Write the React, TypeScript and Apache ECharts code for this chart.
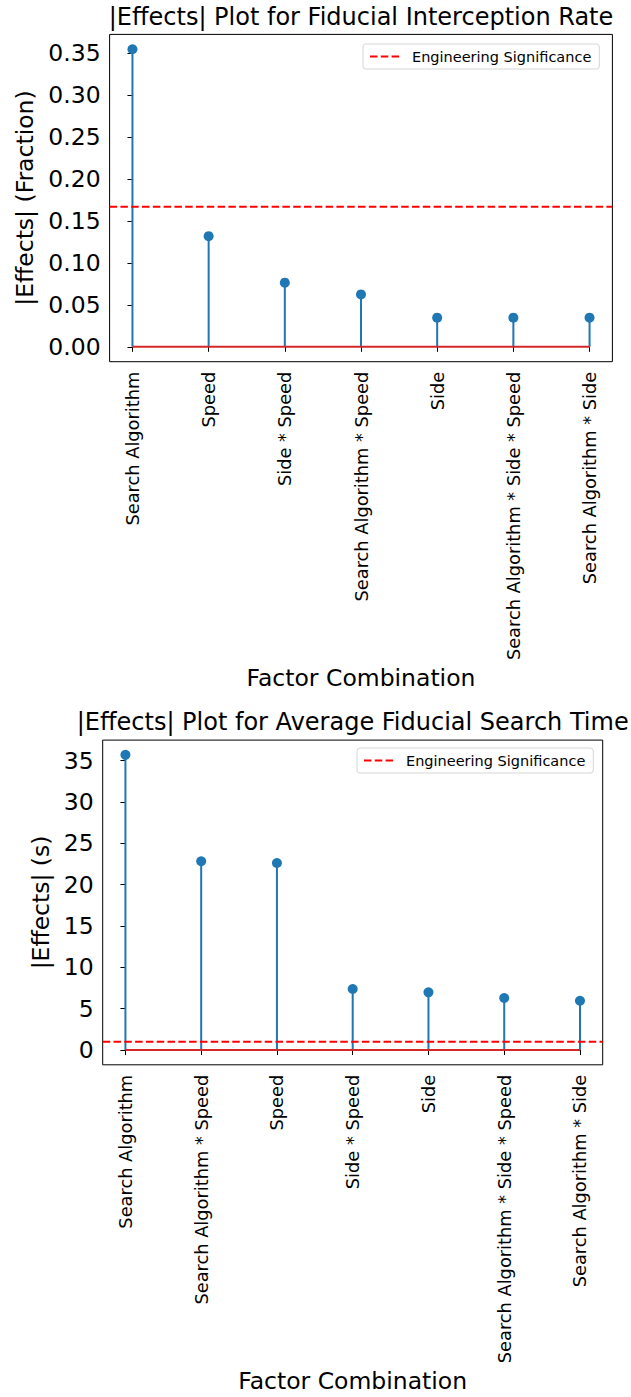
import React, { useEffect, useRef } from 'react';
import * as echarts from 'echarts';

const topTitle = '|Effects| Plot for Fiducial Interception Rate';
const topCategories = [
  'Search Algorithm',
  'Speed',
  'Side * Speed',
  'Search Algorithm * Speed',
  'Side',
  'Search Algorithm * Side * Speed',
  'Search Algorithm * Side',
];
const topValues = [0.355, 0.132, 0.0765, 0.0625, 0.0348, 0.0348, 0.0348];
const topThreshold = 0.167;
const topYTicks = [0, 0.05, 0.1, 0.15, 0.2, 0.25, 0.3, 0.35];
const topYLabel = '|Effects| (Fraction)';

const bottomTitle = '|Effects| Plot for Average Fiducial Search Time';
const bottomCategories = [
  'Search Algorithm',
  'Search Algorithm * Speed',
  'Speed',
  'Side * Speed',
  'Side',
  'Search Algorithm * Side * Speed',
  'Search Algorithm * Side',
];
const bottomValues = [35.7, 22.83, 22.62, 7.38, 6.98, 6.29, 5.96];
const bottomThreshold = 1.0;
const bottomYTicks = [0, 5, 10, 15, 20, 25, 30, 35];
const bottomYLabel = '|Effects| (s)';

const xLabel = 'Factor Combination';
const legendName = 'Engineering Significance';

const FONT = 'DejaVu Sans';
const STEM = '#1f77b4';
const BASE = '#d62728';

type Panel = {
  title: string;
  cats: string[];
  vals: number[];
  thr: number;
  yTicks: number[];
  yLabel: string;
  decimals: number;
  grid: { left: number; top: number; width: number; height: number };
  titleX: number;
  titleY: number;
  yNameGap: number;
  legendPos: { left: number; top: number };
};

function buildOption(panels: Panel[]) {
  const grid: any[] = [];
  const xAxis: any[] = [];
  const yAxis: any[] = [];
  const series: any[] = [];
  const title: any[] = [];
  const legend: any[] = [];
  panels.forEach((p, i) => {
    const n = p.cats.length;
    const idx = p.cats.map((_, k) => k);
    const maxV = Math.max(...p.vals);
    const yMin = -0.05 * maxV;
    const yMax = maxV * 1.05;
    const xMin = -0.05 * (n - 1);
    const xMax = n - 1 + 0.05 * (n - 1);
    grid.push({
      left: p.grid.left,
      top: p.grid.top,
      width: p.grid.width,
      height: p.grid.height,
      show: true,
      borderColor: '#000',
      borderWidth: 1,
      backgroundColor: 'transparent',
      containLabel: false,
    });
    title.push({
      text: p.title,
      left: p.titleX,
      top: p.titleY,
      textAlign: 'center',
      padding: 0,
      textStyle: { fontFamily: FONT, fontSize: 24, fontWeight: 'normal', color: '#000' },
    });
    legend.push({
      data: [legendName],
      left: p.legendPos.left,
      top: p.legendPos.top,
      orient: 'horizontal',
      padding: [5, 8, 5, 6],
      itemWidth: 31,
      itemHeight: 14,
      borderColor: '#d6d6d6',
      borderWidth: 1,
      borderRadius: 3,
      backgroundColor: '#fff',
      selectedMode: false,
      itemStyle: { opacity: 0 },
      lineStyle: { color: 'red', width: 2, type: [7.5, 3.3], opacity: 1 },
      textStyle: { fontFamily: FONT, fontSize: 14.5, color: '#000', padding: [0, 0, 0, 6] },
    });
    xAxis.push({
      type: 'value',
      gridIndex: i,
      min: xMin,
      max: xMax,
      splitLine: { show: false },
      axisLine: { show: false },
      axisTick: {
        show: true,
        customValues: idx,
        length: 5,
        inside: false,
        lineStyle: { color: '#000', width: 1 },
      },
      axisLabel: {
        customValues: idx,
        formatter: (v: number) => p.cats[Math.round(v)] ?? '',
        rotate: 90,
        fontSize: 17.8,
        fontFamily: FONT,
        color: '#000',
        margin: 10,
      },
      name: xLabel,
      nameLocation: 'middle',
      nameGap: 304,
      nameTextStyle: { fontFamily: FONT, fontSize: 23.5, color: '#000' },
    });
    yAxis.push({
      type: 'value',
      gridIndex: i,
      min: yMin,
      max: yMax,
      splitLine: { show: false },
      axisLine: { show: false },
      axisTick: {
        show: true,
        customValues: p.yTicks,
        length: 5,
        inside: false,
        lineStyle: { color: '#000', width: 1 },
      },
      axisLabel: {
        customValues: p.yTicks,
        formatter: (v: number) => v.toFixed(p.decimals),
        fontSize: 23.5,
        fontFamily: FONT,
        color: '#000',
        margin: 9,
      },
      name: p.yLabel,
      nameLocation: 'middle',
      nameRotate: 90,
      nameGap: p.yNameGap,
      nameTextStyle: { fontFamily: FONT, fontSize: 23.5, color: '#000' },
    });
    series.push({
      type: 'custom',
      name: 'stems' + i,
      xAxisIndex: i,
      yAxisIndex: i,
      silent: true,
      z: 2,
      data: p.vals.map((v, k) => [k, v]),
      renderItem: (_params: any, api: any) => {
        const x = api.value(0);
        const y = api.value(1);
        const p0 = api.coord([x, 0]);
        const p1 = api.coord([x, y]);
        return {
          type: 'line',
          shape: { x1: p0[0], y1: p0[1], x2: p1[0], y2: p1[1] },
          style: { stroke: STEM, lineWidth: 2 },
        };
      },
    });
    series.push({
      type: 'line',
      name: 'baseline' + i,
      xAxisIndex: i,
      yAxisIndex: i,
      silent: true,
      z: 3,
      symbol: 'none',
      data: [
        [0, 0],
        [n - 1, 0],
      ],
      lineStyle: { color: BASE, width: 2 },
    });
    series.push({
      type: 'scatter',
      name: 'markers' + i,
      xAxisIndex: i,
      yAxisIndex: i,
      silent: true,
      z: 4,
      symbol: 'circle',
      symbolSize: 10,
      itemStyle: { color: STEM, opacity: 1 },
      data: p.vals.map((v, k) => [k, v]),
    });
    series.push({
      type: 'line',
      name: legendName,
      xAxisIndex: i,
      yAxisIndex: i,
      silent: true,
      z: 5,
      symbol: 'none',
      color: 'red',
      data: [
        [xMin, p.thr],
        [xMax, p.thr],
      ],
      lineStyle: { color: 'red', width: 2, type: [7.5, 3.3] },
    });
  });
  return {
    animation: false,
    backgroundColor: '#fff',
    textStyle: { fontFamily: FONT },
    title,
    legend,
    grid,
    xAxis,
    yAxis,
    series,
  };
}

export default function App() {
  const ref = useRef<HTMLDivElement>(null);
  useEffect(() => {
    if (!ref.current) return;
    const chart = echarts.init(ref.current, null, { renderer: 'svg' });
    const option = buildOption([
      {
        title: topTitle,
        cats: topCategories,
        vals: topValues,
        thr: topThreshold,
        yTicks: topYTicks,
        yLabel: topYLabel,
        decimals: 2,
        grid: { left: 109.6, top: 34.4, width: 502.8, height: 327.3 },
        titleX: 361,
        titleY: 5,
        yNameGap: 68,
        legendPos: { left: 363, top: 44 },
      },
      {
        title: bottomTitle,
        cats: bottomCategories,
        vals: bottomValues,
        thr: bottomThreshold,
        yTicks: bottomYTicks,
        yLabel: bottomYLabel,
        decimals: 0,
        grid: { left: 102.7, top: 740.1, width: 500, height: 324.7 },
        titleX: 352.7,
        titleY: 710,
        yNameGap: 45,
        legendPos: { left: 357, top: 748 },
      },
    ]);
    chart.setOption(option as any);
    return () => chart.dispose();
  }, []);
  return (
    <div
      ref={ref}
      style={{ position: 'absolute', left: 0, top: 0, width: 631, height: 1397, background: '#fff' }}
    />
  );
}
